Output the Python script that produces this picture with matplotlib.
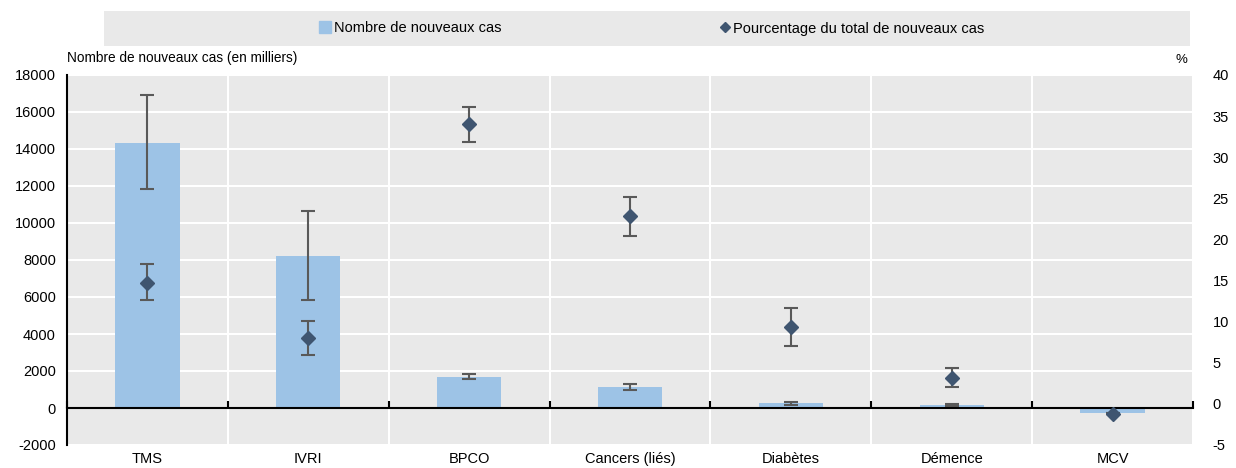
import numpy as np
import matplotlib.pyplot as plt
from matplotlib.lines import Line2D
from matplotlib.patches import Rectangle

plt.rcParams['font.family'] = ['Liberation Sans', 'DejaVu Sans']
plt.rcParams['axes.unicode_minus'] = False

# Data
categories = ["TMS", "IVRI", "BPCO", "Cancers (liés)", "Diabètes", "Démence", "MCV"]
cases = [14350, 8220, 1700, 1150, 250, 150, -250]
cases_low = [11850, 5850, 1550, 1000, 150, 100, -250]
cases_high = [16900, 10650, 1850, 1300, 350, 200, -250]
pct = [14.7, 8.0, 34.0, 22.8, 9.4, 3.2, -1.2]
pct_low = [12.6, 6.0, 31.9, 20.4, 7.1, 2.1, -1.2]
pct_high = [17.0, 10.1, 36.1, 25.2, 11.7, 4.4, -1.2]

bar_color = "#9DC3E6"
dia_color = "#3F5570"
err_color = "#595959"
bg = "#E9E9E9"

x = np.arange(len(categories))
cases = np.array(cases)
pct = np.array(pct)
c_err = [cases - np.array(cases_low), np.array(cases_high) - cases]
p_err = [pct - np.array(pct_low), np.array(pct_high) - pct]

fig = plt.figure(figsize=(12.36, 4.68), dpi=100)
ax = fig.add_axes([67/1236, 1-445/468, (1193-67)/1236, (445-75)/468])
ax.set_facecolor(bg)

ax.bar(x, cases, width=0.4, color=bar_color, zorder=3)
ax.errorbar(x, cases, yerr=c_err, fmt='none', ecolor=err_color, elinewidth=1.5,
            capsize=5, capthick=1.5, zorder=4)

ax.set_xlim(-0.5, len(categories) - 0.5)
ax.set_ylim(-2000, 18000)
ax.set_yticks(np.arange(-2000, 18001, 2000))
ax.tick_params(axis='y', length=0, labelsize=10.5, pad=8)
ax.yaxis.grid(True, color='white', linewidth=1.5)

# category separators (white) under the bars
bounds = np.arange(-0.5, len(categories))
ax.vlines(bounds[1:], -2000, 18000, colors='white', linewidth=1.5, zorder=1)

# x axis at zero, boundary ticks pointing up
ax.spines['bottom'].set_position(('data', 0))
ax.spines['bottom'].set_linewidth(1.5)
ax.spines['bottom'].set_zorder(5)
ax.set_xticks(x)
ax.set_xticklabels(categories)
ax.set_xticks(bounds, minor=True)
ax.tick_params(axis='x', which='major', length=0, labelsize=10.5, pad=32)
ax.tick_params(axis='x', which='minor', direction='in', length=5, width=1.5)
ax.spines['left'].set_linewidth(1.5)
ax.spines['top'].set_visible(False)
ax.spines['right'].set_visible(False)
ax.set_axisbelow(False)
ax.yaxis.set_zorder(0.5)
ax.xaxis.set_zorder(6)

ax2 = ax.twinx()
ax2.errorbar(x, pct, yerr=p_err, fmt='D', color=dia_color, markersize=7,
             ecolor=err_color, elinewidth=1.5, capsize=5, capthick=1.5, zorder=4)
ax2.set_ylim(-5, 40)
ax2.set_yticks(np.arange(-5, 41, 5))
ax2.tick_params(axis='y', length=0, labelsize=10.5, pad=14)
for s in ax2.spines.values():
    s.set_visible(False)

fig.text(67/1236, 1-58/468, "Nombre de nouveaux cas (en milliers)", fontsize=9.8,
         ha='left', va='center')
fig.text(1187/1236, 1-60/468, "%", fontsize=9.5, ha='right', va='center')

# legend box
fig.patches.append(Rectangle((104/1236, 1-46/468), (1190-104)/1236, 35/468,
                             transform=fig.transFigure, facecolor=bg, edgecolor='none'))
handles = [Line2D([], [], marker='s', color=bar_color, linestyle='none', markersize=9),
           Line2D([], [], marker='D', color=dia_color, linestyle='none', markersize=5)]
fig.legend(handles, ["Nombre de nouveaux cas", "Pourcentage du total de nouveaux cas"],
           loc='center', bbox_to_anchor=(652/1236, 1-28.5/468), ncol=2, frameon=False,
           fontsize=10.5, handlelength=0.8, handletextpad=0.2, columnspacing=14.9)

fig.savefig("out.png", dpi=100)
